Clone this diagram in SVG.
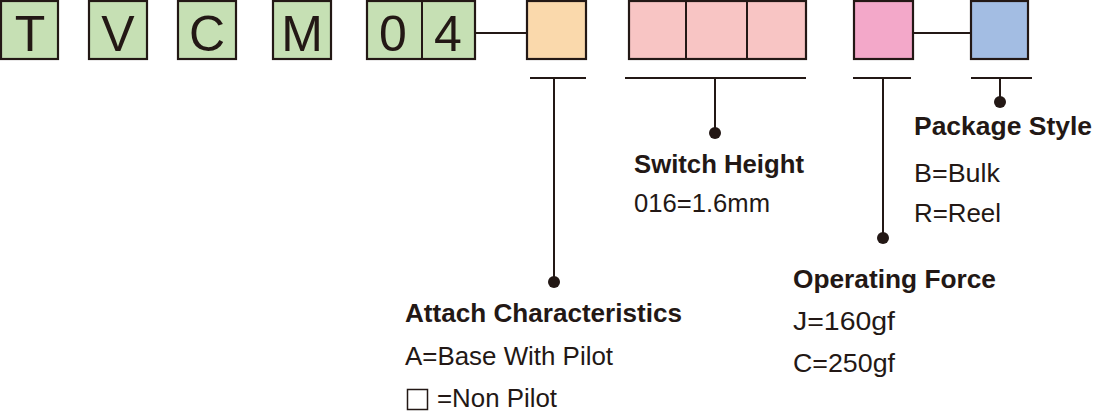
<svg xmlns="http://www.w3.org/2000/svg" width="1093" height="412" viewBox="0 0 1093 412">
<style>
.box{stroke:#231815;stroke-width:2.2}
.g{fill:#c6e0b4}.o{fill:#fad9ac}.p{fill:#f8c5c4}.m{fill:#f3a8c9}.b{fill:#a3bde3}
.ln{stroke:#231815;stroke-width:2;fill:none}
.dot{fill:#231815}
.big{font-family:"Liberation Sans",Arial,sans-serif;font-size:50px;fill:#231815;text-anchor:middle}
.h{font-family:"Liberation Sans",Arial,sans-serif;font-size:26px;font-weight:bold;fill:#231815}
.t{font-family:"Liberation Sans",Arial,sans-serif;font-size:26px;fill:#231815}
</style>
<g id="node-T"><rect class="box g" x="1" y="1" width="57" height="58"/><text class="big" x="30" y="51">T</text></g>
<g id="node-V"><rect class="box g" x="89" y="1" width="58" height="58"/><text class="big" x="118" y="51">V</text></g>
<g id="node-C"><rect class="box g" x="178" y="1" width="58" height="58"/><text class="big" x="207" y="51">C</text></g>
<g id="node-M"><rect class="box g" x="273" y="1" width="58" height="58"/><text class="big" x="302" y="51">M</text></g>
<g id="node-04"><rect class="box g" x="367" y="1" width="108" height="58"/><line class="ln" x1="422" y1="1" x2="422" y2="59"/><text class="big" x="393" y="51">0</text><text class="big" x="448" y="51">4</text></g>
<g id="node-attach"><rect class="box o" x="527" y="1" width="59" height="58"/></g>
<g id="node-height"><rect class="box p" x="629" y="1" width="177" height="58"/><line class="ln" x1="686" y1="1" x2="686" y2="59"/><line class="ln" x1="747" y1="1" x2="747" y2="59"/></g>
<g id="node-force"><rect class="box m" x="854" y="1" width="59" height="58"/></g>
<g id="node-package"><rect class="box b" x="971" y="1" width="57" height="58"/></g>
<g id="connectors">
<line class="ln" x1="475" y1="33" x2="527" y2="33"/>
<line class="ln" x1="913" y1="33" x2="971" y2="33"/>
<line class="ln" x1="530" y1="78" x2="586" y2="78"/>
<line class="ln" x1="554" y1="78" x2="554" y2="282"/>
<circle class="dot" cx="554" cy="282" r="6"/>
<line class="ln" x1="625" y1="78" x2="806" y2="78"/>
<line class="ln" x1="715" y1="78" x2="715" y2="133"/>
<circle class="dot" cx="715" cy="133" r="6"/>
<line class="ln" x1="853" y1="78" x2="911" y2="78"/>
<line class="ln" x1="883" y1="78" x2="883" y2="238"/>
<circle class="dot" cx="883" cy="238" r="6"/>
<line class="ln" x1="971" y1="78" x2="1032" y2="78"/>
<line class="ln" x1="1000" y1="78" x2="1000" y2="102"/>
<circle class="dot" cx="1000" cy="102" r="6"/>
</g>
<g id="label-attach">
<text class="h" x="405" y="322" textLength="277" lengthAdjust="spacingAndGlyphs">Attach Characteristics</text>
<text class="t" x="405" y="365" textLength="208" lengthAdjust="spacingAndGlyphs">A=Base With Pilot</text>
<rect x="407.5" y="389.5" width="20" height="20" fill="none" stroke="#231815" stroke-width="1.5"/>
<text class="t" x="437" y="407" textLength="120" lengthAdjust="spacingAndGlyphs">=Non Pilot</text>
</g>
<g id="label-height">
<text class="h" x="634" y="173" textLength="170" lengthAdjust="spacingAndGlyphs">Switch Height</text>
<text class="t" x="634" y="212" textLength="136" lengthAdjust="spacingAndGlyphs">016=1.6mm</text>
</g>
<g id="label-force">
<text class="h" x="793" y="288" textLength="203" lengthAdjust="spacingAndGlyphs">Operating Force</text>
<text class="t" x="793" y="330" textLength="102" lengthAdjust="spacingAndGlyphs">J=160gf</text>
<text class="t" x="793" y="372" textLength="102" lengthAdjust="spacingAndGlyphs">C=250gf</text>
</g>
<g id="label-package">
<text class="h" x="914" y="135" textLength="178" lengthAdjust="spacingAndGlyphs">Package Style</text>
<text class="t" x="914" y="182" textLength="86" lengthAdjust="spacingAndGlyphs">B=Bulk</text>
<text class="t" x="914" y="222" textLength="87" lengthAdjust="spacingAndGlyphs">R=Reel</text>
</g>
</svg>
